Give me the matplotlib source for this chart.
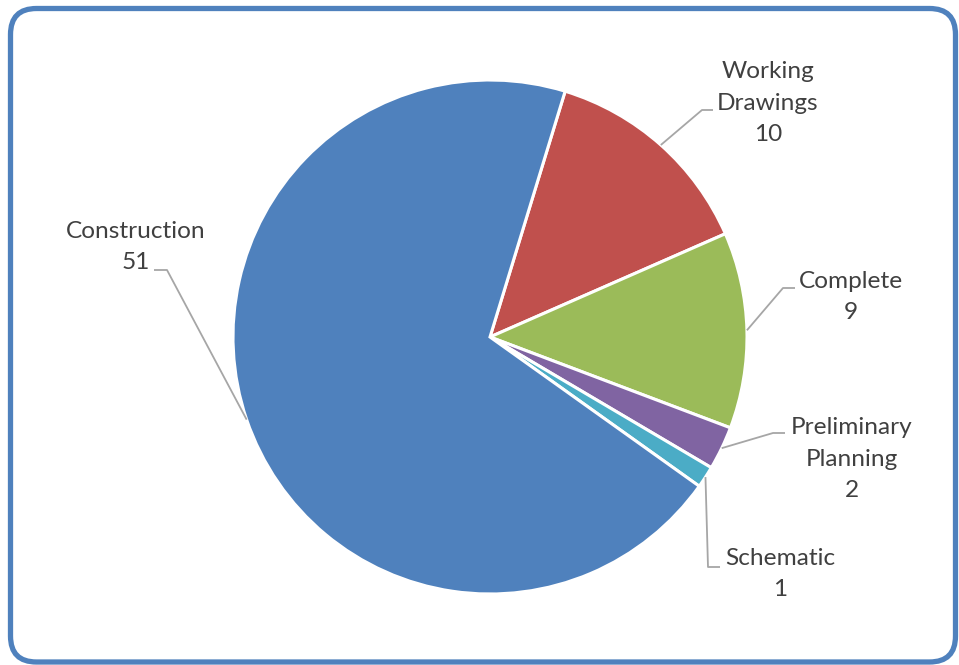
import numpy as np
import matplotlib
matplotlib.use("Agg")
import matplotlib.pyplot as plt
from matplotlib.patches import FancyBboxPatch

plt.rcParams['font.family'] = ['Lato', 'DejaVu Sans']

# data (clockwise order as shown in the chart)
labels = ["Working\nDrawings", "Complete", "Preliminary\nPlanning", "Schematic", "Construction"]
values = [10, 9, 2, 1, 51]
colors = ["#C0504D", "#9BBB59", "#8064A2", "#4BACC6", "#4F81BD"]

W, H = 959, 665
fig = plt.figure(figsize=(W / 100, H / 100), dpi=100)
ax = fig.add_axes([0, 0, 1, 1])

# outer rounded frame
frame = FancyBboxPatch((10.5, 3), 945, 653.5, boxstyle="round,pad=0,rounding_size=26",
                       fc="white", ec="#4F81BD", lw=3.8, clip_on=False, zorder=0)
ax.add_patch(frame)

cx, cy, r = 490, H - 337, 257
wedges, _ = ax.pie(values, colors=colors, startangle=73, counterclock=False,
                   center=(cx, cy), radius=r, frame=True,
                   wedgeprops=dict(edgecolor="white", linewidth=2.2))
ax.set_xlim(0, W)
ax.set_ylim(0, H)
ax.axis('off')

# label layout in pixels: (text center, elbow point, end of horizontal stub)
layout = [
    ((768, 103), (702, 110), (713, 110)),
    ((851, 297), (783, 288), (795, 288)),
    ((852, 459), (773, 433), (785, 433)),
    ((780, 574), (708, 567), (720, 567)),
    ((136, 247), (167, 270), (154, 270)),
]

for w, lab, v, (tpos, elbow, stub) in zip(wedges, labels, values, layout):
    mid = np.deg2rad((w.theta1 + w.theta2) / 2)
    sx = cx + r * np.cos(mid)
    sy = cy + r * np.sin(mid)
    ax.plot([sx, elbow[0], stub[0]], [sy, H - elbow[1], H - stub[1]],
            color="#A6A6A6", lw=1.3, zorder=1, solid_capstyle='butt')
    ax.text(tpos[0], H - tpos[1], f"{lab}\n{v}", ha='center', va='center',
            multialignment='center', fontsize=17.6, color="#404040", linespacing=1.64)

fig.savefig("out.png", dpi=100)
